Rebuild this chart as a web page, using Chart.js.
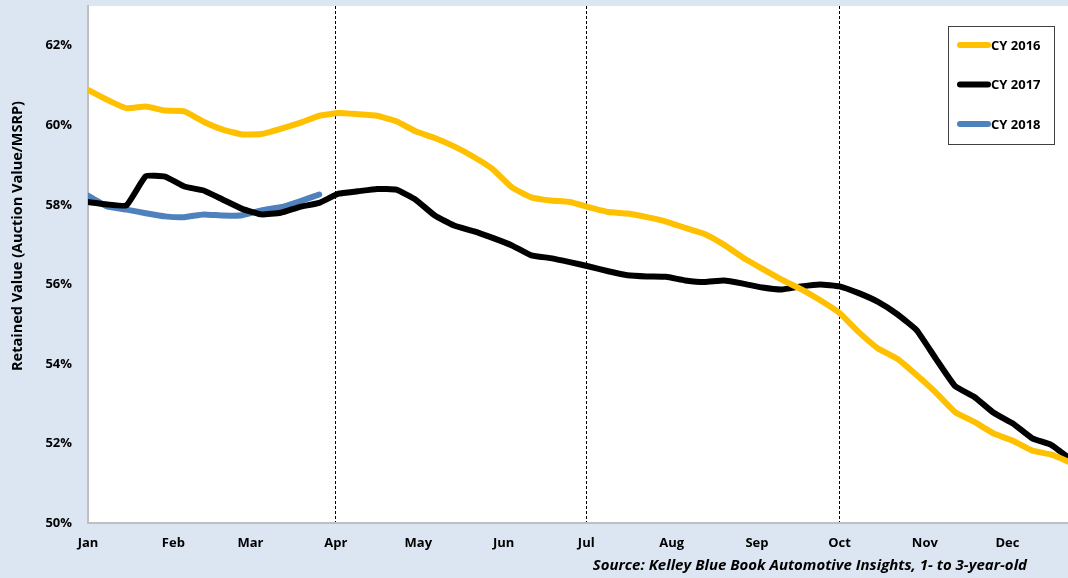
<!DOCTYPE html>
<html>
<head>
<meta charset="utf-8">
<script src="https://cdn.jsdelivr.net/npm/chart.js@4"></script>
<style>
  html, body { margin: 0; padding: 0; background: #dce6f2; }
  canvas { display: block; }
</style>
</head>
<body>
<canvas id="chart" width="1068" height="578"></canvas>
<script>
const monthLabels = ["Jan", "Feb", "Mar", "Apr", "May", "Jun", "Jul", "Aug", "Sep", "Oct", "Nov", "Dec"];
const monthStarts = [0, 31, 59, 90, 120, 151, 181, 212, 243, 273, 304, 334];
const quarterStarts = [90, 181, 273];
const yTicks = [50, 52, 54, 56, 58, 60, 62];
const yTitle = "Retained Value (Auction Value/MSRP)";
const sourceNote = "Source: Kelley Blue Book Automotive Insights, 1- to 3-year-old";

// weekly retained value, % of MSRP
const cy2016 = [
  60.89, 60.64, 60.43, 60.47, 60.37, 60.35, 60.09, 59.89, 59.77, 59.78,
  59.91, 60.06, 60.24, 60.31, 60.28, 60.24, 60.10, 59.85, 59.68, 59.47,
  59.21, 58.90, 58.44, 58.19, 58.11, 58.07, 57.94, 57.82, 57.78, 57.69,
  57.58, 57.42, 57.27, 57.00, 56.67, 56.39, 56.12, 55.88, 55.60, 55.28,
  54.80, 54.39, 54.13, 53.72, 53.28, 52.79, 52.54, 52.25, 52.07, 51.82,
  51.72, 51.52
];
const cy2017 = [
  58.07, 58.01, 57.99, 58.72, 58.71, 58.46, 58.36, 58.13, 57.90, 57.76,
  57.80, 57.95, 58.05, 58.28, 58.34, 58.40, 58.38, 58.13, 57.73, 57.48,
  57.34, 57.17, 56.98, 56.73, 56.66, 56.56, 56.45, 56.33, 56.23, 56.20,
  56.19, 56.10, 56.06, 56.10, 56.02, 55.92, 55.87, 55.95, 56.00, 55.95,
  55.78, 55.56, 55.25, 54.85, 54.13, 53.44, 53.17, 52.77, 52.50, 52.13,
  51.96, 51.60
];
const cy2018 = [
  58.23, 57.96, 57.88, 57.79, 57.71, 57.69, 57.76, 57.73, 57.74, 57.86,
  57.94, 58.09, 58.26
];

const toPoints = values => values.map((v, i) => ({ x: i * 7, y: v }));

const family = "'Open Sans', Lato, sans-serif";
const font = { family: family, size: 13, weight: "bold" };

const plotBackground = {
  id: "plotBackground",
  beforeDraw(chart) {
    const { ctx, chartArea: a } = chart;
    ctx.save();
    ctx.fillStyle = "#ffffff";
    ctx.fillRect(a.left, a.top, a.right - a.left, a.bottom - a.top);
    ctx.restore();
  }
};

// boxed legend, y title and source line
const extras = {
  id: "extras",
  afterDraw(chart) {
    const { ctx } = chart;
    ctx.save();
    ctx.fillStyle = "#ffffff";
    ctx.fillRect(948, 26, 106, 118);
    ctx.strokeStyle = "#404040";
    ctx.lineWidth = 1;
    ctx.strokeRect(948.5, 26.5, 106, 118);
    ctx.font = "bold 13px " + family;
    ctx.textBaseline = "middle";
    chart.data.datasets.forEach((ds, i) => {
      const y = 45 + i * 39.5;
      ctx.strokeStyle = ds.borderColor;
      ctx.lineWidth = 6;
      ctx.lineCap = "round";
      ctx.beginPath();
      ctx.moveTo(960, y);
      ctx.lineTo(988, y);
      ctx.stroke();
      ctx.fillStyle = "#000000";
      ctx.fillText(ds.label, 991, y + 1);
    });

    ctx.font = "italic bold 15px " + family;
    ctx.textAlign = "right";
    ctx.fillText(sourceNote, 1027, 566);

    ctx.font = "bold 14.5px " + family;
    ctx.textAlign = "center";
    ctx.translate(18, 236);
    ctx.rotate(-Math.PI / 2);
    ctx.fillText(yTitle, 0, 0);
    ctx.restore();
  }
};

new Chart(document.getElementById("chart"), {
  type: "line",
  data: {
    datasets: [
      { label: "CY 2016", data: toPoints(cy2016), borderColor: "#ffc000" },
      { label: "CY 2017", data: toPoints(cy2017), borderColor: "#000000" },
      { label: "CY 2018", data: toPoints(cy2018), borderColor: "#4f81bd" }
    ]
  },
  options: {
    responsive: false,
    animation: false,
    layout: { padding: { top: 6, right: 0, left: 0, bottom: 0 } },
    elements: {
      line: { borderWidth: 6, tension: 0.12, borderJoinStyle: "round", borderCapStyle: "round" },
      point: { radius: 0 }
    },
    plugins: { legend: { display: false }, tooltip: { enabled: false } },
    scales: {
      x: {
        type: "linear",
        min: 0,
        max: 356,
        afterBuildTicks: scale => { scale.ticks = monthStarts.map(v => ({ value: v })); },
        afterFit: scale => {
          scale.height = 55;
          scale.paddingLeft = 0;
          scale.paddingRight = 0;
        },
        ticks: {
          autoSkip: false,
          maxRotation: 0,
          padding: 12,
          color: "#000000",
          font: font,
          callback: (v, i) => monthLabels[i]
        },
        grid: {
          drawTicks: false,
          lineWidth: 1,
          color: ctx => (ctx.tick && quarterStarts.includes(ctx.tick.value) ? "#000000" : "rgba(0,0,0,0)")
        },
        border: { display: true, color: "#bfbfbf", width: 2, dash: [3, 2] }
      },
      y: {
        min: 50,
        max: 63,
        afterBuildTicks: scale => { scale.ticks = yTicks.map(v => ({ value: v })); },
        afterFit: scale => {
          scale.width = 88;
          scale.paddingTop = 0;
          scale.paddingBottom = 0;
        },
        ticks: {
          padding: 16,
          color: "#000000",
          font: font,
          callback: v => v + "%"
        },
        grid: { display: false, drawTicks: false },
        border: { display: true, color: "#bfbfbf", width: 2 }
      }
    }
  },
  plugins: [plotBackground, extras]
});
</script>
</body>
</html>
